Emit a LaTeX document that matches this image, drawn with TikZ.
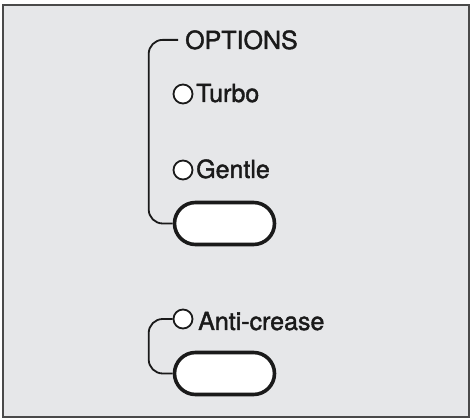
\documentclass[tikz,border=0pt]{standalone}
\usepackage{fontspec}
\setmainfont{TeX Gyre Heros}
\newfontfamily\panelfont[FakeBold=1.6]{TeX Gyre Heros}
\usetikzlibrary{shapes.misc}
\definecolor{panelbg}{HTML}{E6E7E9}
\definecolor{framecol}{HTML}{4A4A4A}
\definecolor{inkcol}{HTML}{1A1A1A}
\begin{document}
\begin{tikzpicture}[x=1pt,y=1pt,
  lbl/.style={inner sep=0pt, anchor=base west, text=inkcol, font=\panelfont\fontsize{25}{30}\selectfont},
  lamp/.style={circle, draw=inkcol, fill=white, line width=1.8pt, minimum size=19pt, inner sep=0pt},
  btn/.style={rounded rectangle, draw=inkcol, fill=white, line width=3.6pt, minimum width=100pt, minimum height=42pt, inner sep=0pt},
  bracket/.style={draw=inkcol, line width=1.8pt, rounded corners=14pt}
]
\useasboundingbox (0,0) rectangle (470,419);
\draw[fill=panelbg, draw=framecol, line width=2pt] (3,2) rectangle (469,414);

\node[lbl] (opt) at (185,370) {OPTIONS};
\node[lamp] (c1) at (183,325) {};
\node[lbl] (turbo) at (196,317) {Turbo};
\node[lamp] (c2) at (183,249) {};
\node[lbl] (gentle) at (196,241) {Gentle};
\node[btn] (b1) at (224.5,195.5) {};

\node[lamp] (c3) at (183,100) {};
\node[lbl] (anti) at (198,89) {Anti-crease};
\node[btn] (b2) at (224.5,45.5) {};

\draw[bracket] ([xshift=-7pt]opt.west) -| ([xshift=-24pt]b1.west) -- (b1.west);
\draw[bracket] (c3.west) -| ([xshift=-24pt]b2.west) -- (b2.west);
\end{tikzpicture}
\end{document}
